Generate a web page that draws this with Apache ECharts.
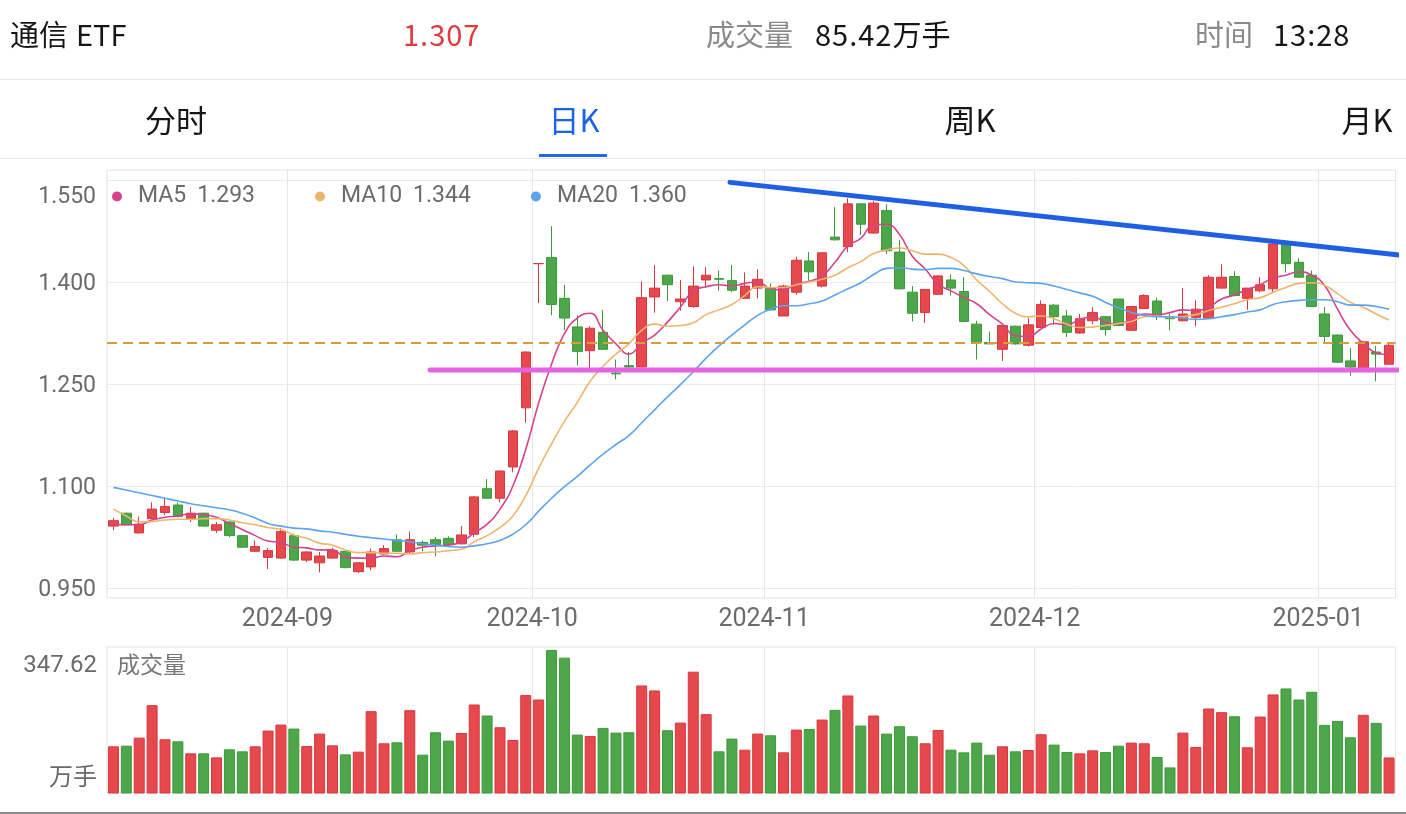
<!DOCTYPE html>
<html>
<head>
<meta charset="utf-8">
<script src="https://cdn.jsdelivr.net/npm/echarts/dist/echarts.min.js"></script>
<style>
  html, body { margin: 0; padding: 0; background: #fff; }
  body { width: 1406px; height: 814px; overflow: hidden; position: relative;
         font-family: "Noto Sans CJK SC", "Noto Sans", sans-serif; }
  #chart { position: absolute; left: 0; top: 0; width: 1406px; height: 814px; }
  .t { position: absolute; white-space: nowrap; height: 40px; line-height: 40px; font-size: 29px; color: #161616; z-index: 2; }
  .g { color: #8a8a8a; }
  .n { letter-spacing: 1px; }
  .tab { position: absolute; width: 200px; text-align: center; height: 40px; line-height: 40px; font-size: 31px; color: #161616; z-index: 2; }
  .line { position: absolute; left: 0; width: 1406px; height: 1px; background: #e6e6e6; z-index: 2; }
</style>
</head>
<body>
<div class="t" style="left:10px;top:13px;">通信<span style="margin-left:8px;">ETF</span></div>
<div class="t n" style="left:403px;top:13px;color:#e0393e;">1.307</div>
<div class="t g" style="left:706px;top:13px;">成交量</div>
<div class="t" style="left:815px;top:13px;"><span class="n">85.42</span>万手</div>
<div class="t g" style="left:1195px;top:13px;">时间</div>
<div class="t n" style="left:1273px;top:13px;">13:28</div>
<div class="line" style="top:79px;"></div>
<div class="tab" style="left:76px;top:99px;">分时</div>
<div class="tab" style="left:474px;top:99px;color:#1a64e5;">日K</div>
<div class="tab" style="left:870px;top:99px;">周K</div>
<div class="tab" style="left:1267px;top:99px;">月K</div>
<div style="position:absolute;left:539px;top:154px;width:68px;height:3px;background:#1f6ae6;z-index:3;"></div>
<div class="line" style="top:158px;"></div>
<div style="position:absolute;left:0;top:812px;width:1406px;height:2px;background:#8c8c8c;z-index:2;"></div>
<div id="chart"></div>
<script>
const dates = [
 '2024-08-13','2024-08-14','2024-08-15','2024-08-16','2024-08-19','2024-08-20','2024-08-21','2024-08-22','2024-08-23','2024-08-26','2024-08-27','2024-08-28','2024-08-29','2024-08-30',
 '2024-09-02','2024-09-03','2024-09-04','2024-09-05','2024-09-06','2024-09-09','2024-09-10','2024-09-11','2024-09-12','2024-09-13','2024-09-18','2024-09-19','2024-09-20','2024-09-23','2024-09-24','2024-09-25','2024-09-26','2024-09-27','2024-09-30',
 '2024-10-08','2024-10-09','2024-10-10','2024-10-11','2024-10-14','2024-10-15','2024-10-16','2024-10-17','2024-10-18','2024-10-21','2024-10-22','2024-10-23','2024-10-24','2024-10-25','2024-10-28','2024-10-29','2024-10-30','2024-10-31',
 '2024-11-01','2024-11-04','2024-11-05','2024-11-06','2024-11-07','2024-11-08','2024-11-11','2024-11-12','2024-11-13','2024-11-14','2024-11-15','2024-11-18','2024-11-19','2024-11-20','2024-11-21','2024-11-22','2024-11-25','2024-11-26','2024-11-27','2024-11-28','2024-11-29',
 '2024-12-02','2024-12-03','2024-12-04','2024-12-05','2024-12-06','2024-12-09','2024-12-10','2024-12-11','2024-12-12','2024-12-13','2024-12-16','2024-12-17','2024-12-18','2024-12-19','2024-12-20','2024-12-23','2024-12-24','2024-12-25','2024-12-26','2024-12-27','2024-12-30','2024-12-31',
 '2025-01-02','2025-01-03','2025-01-06','2025-01-07','2025-01-08','2025-01-09'
];
const opens = [1.041,1.060,1.031,1.052,1.061,1.072,1.052,1.060,1.035,1.047,
 1.027,1.004,0.995,0.994,1.027,0.991,0.987,0.994,1.004,0.974,
 0.981,1.000,1.021,1.003,1.017,1.021,1.023,1.015,1.029,1.096,
 1.082,1.128,1.215,1.427,1.436,1.376,1.334,1.299,1.326,1.266,
 1.277,1.275,1.378,1.410,1.371,1.364,1.403,1.405,1.402,1.376,
 1.391,1.391,1.350,1.385,1.431,1.394,1.466,1.452,1.515,1.472,
 1.505,1.444,1.385,1.355,1.382,1.403,1.386,1.338,1.311,1.301,
 1.335,1.307,1.333,1.366,1.350,1.325,1.343,1.349,1.375,1.329,
 1.361,1.372,1.348,1.343,1.348,1.347,1.391,1.408,1.376,1.387,
 1.390,1.456,1.429,1.410,1.353,1.322,1.284,1.273,1.297,1.279];
const closes = [1.049,1.043,1.044,1.066,1.070,1.055,1.060,1.041,1.043,1.027,
 1.010,1.011,1.005,1.033,0.991,1.003,0.997,1.005,0.980,0.987,
 1.003,1.008,1.004,1.021,1.013,1.014,1.014,1.028,1.084,1.082,
 1.122,1.181,1.297,1.427,1.367,1.347,1.298,1.332,1.301,1.265,
 1.275,1.377,1.391,1.396,1.375,1.394,1.410,1.404,1.388,1.394,
 1.404,1.359,1.394,1.432,1.415,1.443,1.462,1.515,1.485,1.516,
 1.446,1.390,1.354,1.389,1.409,1.391,1.342,1.311,1.309,1.336,
 1.309,1.337,1.367,1.349,1.326,1.346,1.355,1.330,1.336,1.364,
 1.380,1.351,1.346,1.353,1.360,1.407,1.407,1.380,1.391,1.396,
 1.456,1.427,1.407,1.364,1.320,1.282,1.275,1.312,1.294,1.307];
const lows = [1.035,1.042,1.030,1.051,1.057,1.054,1.047,1.040,1.031,1.025,
 1.009,1.003,0.978,0.993,0.990,0.988,0.973,0.993,0.979,0.972,
 0.976,0.999,1.003,1.000,1.004,0.997,1.013,1.014,1.025,1.082,
 1.076,1.120,1.193,1.369,1.351,1.329,1.277,1.272,1.300,1.257,
 1.274,1.274,1.355,1.372,1.358,1.362,1.392,1.387,1.385,1.376,
 1.376,1.358,1.350,1.381,1.402,1.392,1.461,1.444,1.469,1.471,
 1.441,1.389,1.342,1.340,1.381,1.380,1.341,1.286,1.309,1.284,
 1.308,1.305,1.333,1.337,1.319,1.324,1.338,1.321,1.335,1.329,
 1.361,1.344,1.329,1.342,1.335,1.346,1.390,1.379,1.359,1.385,
 1.385,1.414,1.406,1.363,1.309,1.281,1.262,1.272,1.254,1.279];
const highs = [1.053,1.061,1.055,1.076,1.082,1.076,1.069,1.061,1.047,1.048,
 1.028,1.020,1.009,1.038,1.030,1.004,1.003,1.009,1.005,0.988,
 1.008,1.013,1.029,1.033,1.020,1.025,1.026,1.041,1.085,1.110,
 1.123,1.182,1.298,1.427,1.482,1.396,1.351,1.335,1.359,1.286,
 1.297,1.401,1.425,1.411,1.403,1.423,1.422,1.417,1.425,1.414,
 1.419,1.398,1.396,1.437,1.444,1.443,1.510,1.523,1.515,1.519,
 1.514,1.462,1.394,1.389,1.410,1.411,1.407,1.343,1.327,1.336,
 1.336,1.347,1.373,1.367,1.359,1.353,1.363,1.350,1.375,1.365,
 1.382,1.377,1.353,1.391,1.373,1.410,1.426,1.416,1.391,1.407,
 1.457,1.456,1.435,1.417,1.363,1.323,1.303,1.313,1.306,1.311];
const volumes = [112.6,114.2,133.8,213.0,129.7,124.8,95.5,95.5,85.7,105.3,
 100.4,112.6,151.0,165.6,155.9,113.4,143.6,115.0,93.0,99.6,
 198.3,120.0,122.4,200.7,92.2,146.9,126.5,145.2,214.6,187.7,
 159.1,128.1,237.5,226.8,347.62,328.8,141.2,137.9,157.5,146.0,
 146.9,261.0,248.9,151.8,170.5,294.6,191.0,100.4,131.4,104.4,
 143.6,139.5,97.9,153.4,155.0,177.9,201.6,236.6,163.2,187.7,
 143.6,161.6,137.1,120.0,152.6,104.4,97.9,121.6,92.2,112.6,
 100.4,103.6,142.0,116.7,98.7,95.5,102.8,98.7,114.2,121.6,
 120.0,86.5,61.2,146.0,111.0,204.8,195.8,186.0,110.2,185.2,
 239.1,253.8,226.8,245.6,164.8,174.6,134.6,189.3,169.7,85.42];
const ma5 = [1.044,1.043,1.043,1.050,1.054,1.056,1.059,1.058,1.054,1.045,
 1.036,1.027,1.019,1.017,1.010,1.009,1.006,1.006,0.995,0.994,
 0.994,0.997,0.996,1.005,1.010,1.012,1.013,1.018,1.031,1.044,
 1.066,1.100,1.154,1.222,1.279,1.324,1.347,1.354,1.329,1.309,
 1.294,1.310,1.322,1.341,1.363,1.387,1.393,1.396,1.394,1.398,
 1.400,1.390,1.388,1.397,1.401,1.409,1.429,1.453,1.464,1.484,
 1.485,1.470,1.438,1.419,1.397,1.387,1.377,1.368,1.352,1.338,
 1.321,1.320,1.331,1.339,1.337,1.345,1.349,1.341,1.338,1.346,
 1.353,1.352,1.355,1.359,1.358,1.363,1.375,1.381,1.389,1.396,
 1.406,1.410,1.415,1.410,1.395,1.360,1.329,1.310,1.296,1.293];
const ma10 = [1.066,1.056,1.047,1.048,1.050,1.051,1.051,1.052,1.052,1.050,
 1.046,1.043,1.039,1.036,1.028,1.023,1.016,1.013,1.006,1.002,
 1.002,1.001,1.001,1.000,1.002,1.003,1.005,1.007,1.018,1.027,
 1.039,1.056,1.086,1.126,1.162,1.195,1.223,1.254,1.276,1.294,
 1.309,1.329,1.338,1.335,1.336,1.340,1.352,1.359,1.367,1.380,
 1.393,1.392,1.392,1.396,1.400,1.404,1.410,1.421,1.430,1.442,
 1.447,1.450,1.446,1.441,1.441,1.436,1.424,1.403,1.386,1.368,
 1.354,1.349,1.350,1.346,1.338,1.333,1.334,1.336,1.339,1.342,
 1.349,1.350,1.348,1.349,1.352,1.358,1.363,1.368,1.374,1.377,
 1.385,1.392,1.398,1.399,1.395,1.383,1.370,1.363,1.353,1.344];
const ma20 = [1.098,1.094,1.090,1.086,1.082,1.078,1.074,1.071,1.068,1.065,
 1.060,1.053,1.045,1.041,1.038,1.037,1.034,1.032,1.029,1.026,
 1.024,1.022,1.020,1.018,1.015,1.013,1.011,1.010,1.012,1.015,
 1.020,1.029,1.043,1.063,1.082,1.099,1.114,1.131,1.147,1.161,
 1.174,1.193,1.212,1.231,1.249,1.268,1.288,1.306,1.322,1.337,
 1.351,1.360,1.365,1.365,1.368,1.372,1.381,1.390,1.399,1.411,
 1.420,1.421,1.419,1.418,1.420,1.420,1.417,1.412,1.408,1.405,
 1.400,1.399,1.398,1.394,1.389,1.384,1.379,1.370,1.362,1.355,
 1.351,1.349,1.349,1.347,1.345,1.346,1.349,1.352,1.356,1.359,
 1.367,1.371,1.373,1.374,1.374,1.371,1.366,1.366,1.364,1.360];
// hand-drawn annotation lines: [candle index, price]
const resistanceLine = [[47.85, 1.5465], [100.31, 1.4385]];
const supportLine = [[24.57, 1.2705], [100.31, 1.2705]];
const priceTicks = [0.95, 1.10, 1.25, 1.40, 1.55];

const FONT = 'Roboto, "Noto Sans CJK SC", sans-serif';
const UP = '#e5484d', UP_B = '#d7383e', DOWN = '#4ea64b', DOWN_B = '#3d9a3a';
const n = dates.length;
const candleData = dates.map((d, i) => [opens[i], closes[i], lows[i], highs[i]]);
const isUp = i => closes[i] > opens[i] || (closes[i] === opens[i] && (i === 0 || closes[i] >= closes[i - 1]));
const monthStart = new Set();
for (let i = 1; i < n; i++) if (dates[i].slice(0, 7) !== dates[i - 1].slice(0, 7)) monthStart.add(i);
const volData = volumes.map((v, i) => ({ value: v, itemStyle: { color: isUp(i) ? UP : DOWN, borderColor: isUp(i) ? UP_B : DOWN_B } }));
const maxVol = Math.max(...volumes);
const last = a => a[a.length - 1].toFixed(3);
const maLast = { MA5: last(ma5), MA10: last(ma10), MA20: last(ma20) };

const pxPerUnit = 408 / (priceTicks[4] - priceTicks[0]);
const chart = echarts.init(document.getElementById('chart'));
chart.setOption({
  animation: false,
  textStyle: { fontFamily: FONT },
  legend: {
    data: ['MA5', 'MA10', 'MA20'], left: 107, top: 180, icon: 'circle', itemWidth: 10, itemHeight: 10, itemGap: 60,
    selectedMode: false,
    formatter: name => '{n|' + name + '}{v|' + maLast[name] + '}',
    textStyle: { rich: {
      n: { fontSize: 23, color: '#6b6b6b', fontFamily: FONT, padding: [0, 0, 0, 11] },
      v: { fontSize: 23, color: '#6b6b6b', fontFamily: FONT, padding: [0, 0, 0, 11] }
    } }
  },
  grid: [
    { left: 107, right: 10.5, top: 170, bottom: 216, show: true, borderColor: '#e4e4e4', borderWidth: 1 },
    { left: 107, right: 10.5, top: 180, bottom: 226 },
    { left: 107, right: 10.5, top: 647, bottom: 21, show: true, borderColor: '#e4e4e4', borderWidth: 1 }
  ],
  xAxis: [
    { type: 'category', gridIndex: 0, data: dates, boundaryGap: true,
      axisLine: { show: false }, axisTick: { show: false },
      axisLabel: { interval: i => monthStart.has(i), formatter: v => v.slice(0, 7), color: '#6b6b6b', fontSize: 25, margin: 9, padding: [0, 13, 0, 0], fontFamily: FONT },
      splitLine: { show: true, interval: i => monthStart.has(i), lineStyle: { color: '#e6e6e6', width: 1 } } },
    { type: 'value', gridIndex: 0, min: -0.5, max: n - 0.5, show: false },
    { type: 'value', gridIndex: 1, min: 0, max: 1, show: false },
    { type: 'category', gridIndex: 2, data: dates, boundaryGap: true,
      axisLine: { show: false }, axisTick: { show: false }, axisLabel: { show: false },
      splitLine: { show: true, interval: i => monthStart.has(i), lineStyle: { color: '#e6e6e6', width: 1 } } }
  ],
  yAxis: [
    { type: 'value', gridIndex: 0, min: priceTicks[0] - 10 / pxPerUnit, max: priceTicks[4] + 10 / pxPerUnit,
      axisLine: { show: false }, axisTick: { show: false }, axisLabel: { show: false }, splitLine: { show: false } },
    { type: 'value', gridIndex: 1, min: priceTicks[0], max: priceTicks[4], interval: priceTicks[1] - priceTicks[0],
      axisLine: { show: false }, axisTick: { show: false },
      splitLine: { lineStyle: { color: '#ebebeb', width: 1 } },
      axisLabel: { margin: 11, color: '#6b6b6b', fontSize: 23, fontFamily: FONT,
        formatter: v => Math.abs(v - priceTicks[4]) < 1e-6 ? '{t|' + v.toFixed(3) + '}' : '{m|' + v.toFixed(3) + '}',
        rich: {
          t: { fontSize: 23, color: '#6b6b6b', fontFamily: FONT, padding: [34, 0, 0, 0] },
          m: { fontSize: 23, color: '#6b6b6b', fontFamily: FONT, padding: [5, 0, 0, 0] }
        } } },
    { type: 'value', gridIndex: 2, min: 0, max: 356,
      axisLine: { show: false }, axisTick: { show: false }, axisLabel: { show: false }, splitLine: { show: false } }
  ],
  graphic: [
    { type: 'text', right: 1406 - 97, top: 654, style: { text: maxVol.toFixed(2), fill: '#6b6b6b', font: '24px ' + FONT } },
    { type: 'text', right: 1406 - 97, top: 767, style: { text: '万手', fill: '#6b6b6b', font: '24px ' + FONT } },
    { type: 'text', left: 117, top: 656, style: { text: '成交量', fill: '#777', font: '23px ' + FONT } }
  ],
  series: [
    { type: 'candlestick', name: 'K', xAxisIndex: 0, yAxisIndex: 0, data: candleData, barWidth: 10,
      itemStyle: { color: UP, color0: DOWN, borderColor: UP_B, borderColor0: DOWN_B, borderColorDoji: UP_B, borderWidth: 1 },
      markLine: { symbol: 'none', silent: true, label: { show: false },
        lineStyle: { color: '#dd9c3c', type: [10, 6], width: 2 },
        data: [{ yAxis: closes[n - 1] }] } },
    { type: 'line', name: 'MA5', color: '#d6428b', xAxisIndex: 0, yAxisIndex: 0, data: ma5, smooth: true, symbol: 'none', lineStyle: { width: 1.6, color: '#d6428b' }, z: 3 },
    { type: 'line', name: 'MA10', color: '#efb56f', xAxisIndex: 0, yAxisIndex: 0, data: ma10, smooth: true, symbol: 'none', lineStyle: { width: 1.6, color: '#efb56f' }, z: 3 },
    { type: 'line', name: 'MA20', color: '#5ba4ee', xAxisIndex: 0, yAxisIndex: 0, data: ma20, smooth: true, symbol: 'none', lineStyle: { width: 1.6, color: '#5ba4ee' }, z: 3 },
    { type: 'line', name: 'support', xAxisIndex: 1, yAxisIndex: 0, data: supportLine, clip: false, symbol: 'none', silent: true,
      lineStyle: { width: 5, color: '#e862e6', cap: 'round' }, z: 4 },
    { type: 'line', name: 'resistance', xAxisIndex: 1, yAxisIndex: 0, data: resistanceLine, clip: false, symbol: 'none', silent: true,
      lineStyle: { width: 5, color: '#1e5fe6', cap: 'round' }, z: 4 },
    { type: 'bar', name: 'VOL', xAxisIndex: 3, yAxisIndex: 2, data: volData, barWidth: 10 }
  ]
});
</script>
</body>
</html>
